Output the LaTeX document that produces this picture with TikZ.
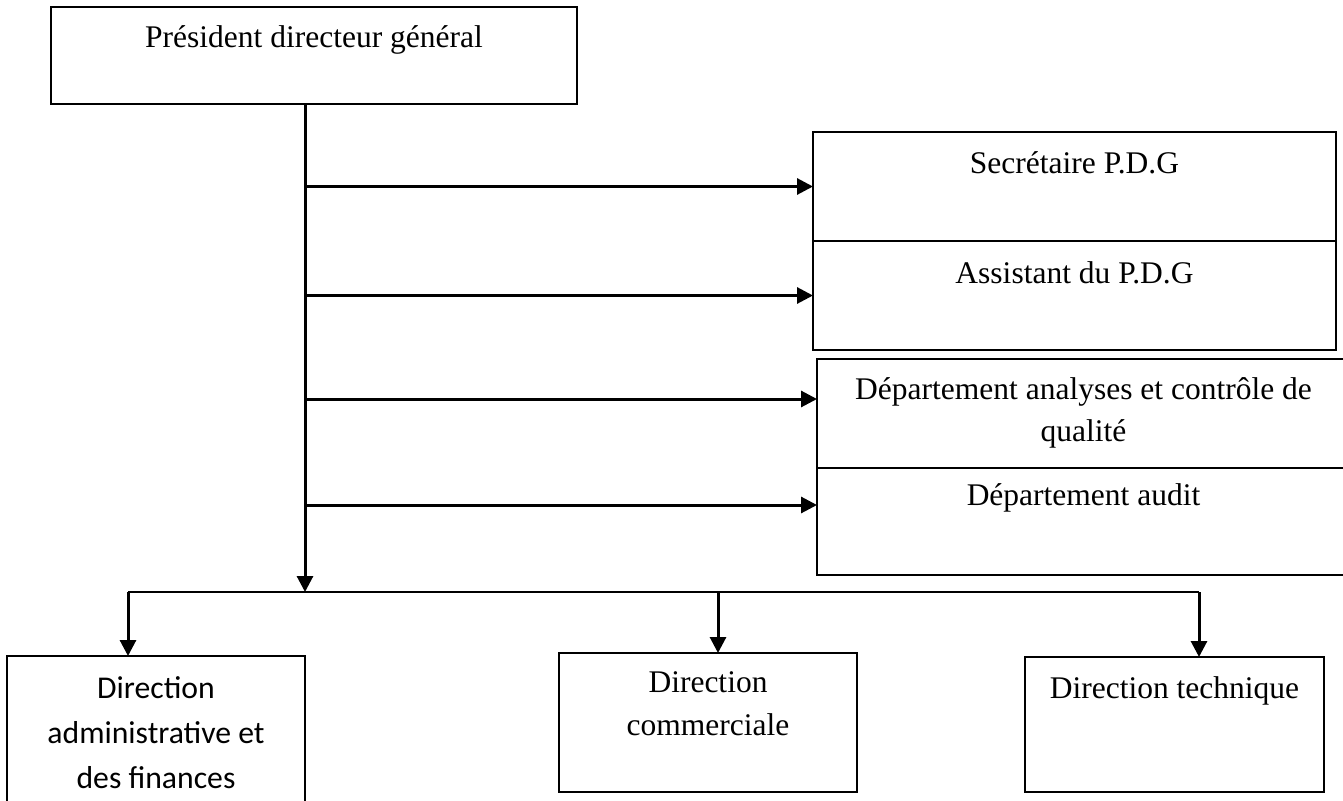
\documentclass[tikz,border=0pt]{standalone}
\usepackage{fontspec}
\setmainfont{Liberation Serif}
\newfontfamily\calfont{Carlito}
\usetikzlibrary{arrows.meta}
\begin{document}
\begin{tikzpicture}[x=1pt,y=-1pt,
  box/.style={draw,line width=2.2pt,rectangle,inner sep=0pt,outer sep=0pt},
  lbl/.style={inner sep=0pt,anchor=base,align=center,font=\fontsize{31.5}{42}\selectfont},
  clbl/.style={inner sep=0pt,anchor=base,align=center,font=\calfont\fontsize{31.7}{45}\selectfont},
  conn/.style={line width=3pt,-{Triangle[length=16pt,width=16pt]}},
  busline/.style={line width=2.4pt}]
\useasboundingbox (0,0) rectangle (1343,800);
% boxes
\node[box,minimum width=526pt,minimum height=97pt] (pdg) at (314,55.5) {};
\node[box,minimum width=523pt,minimum height=109pt] (sec) at (1074.5,186.5) {};
\node[box,minimum width=523pt,minimum height=109pt] (ass) at (1074.5,295.5) {};
\node[box,minimum width=533pt,minimum height=109pt] (ana) at (1083.5,413.5) {};
\node[box,minimum width=533pt,minimum height=107pt] (aud) at (1083.5,521.5) {};
\node[box,minimum width=298pt,minimum height=174pt] (daf) at (156,743) {};
\node[box,minimum width=298pt,minimum height=139pt] (dc) at (708,722.5) {};
\node[box,minimum width=299pt,minimum height=135pt] (dt) at (1174.5,724.5) {};
% labels (base anchor = baseline of the last line)
\node[lbl] (pdgT) at ([yshift=-41pt]pdg.north) {Président directeur général};
\node[lbl] (secT) at ([yshift=-41pt]sec.north) {Secrétaire P.D.G};
\node[lbl] (assT) at ([yshift=-42pt]ass.north) {Assistant du P.D.G};
\node[lbl] (anaT) at ([yshift=-82pt]ana.north) {Département analyses et contrôle de\\qualité};
\node[lbl] (audT) at ([yshift=-37pt]aud.north) {Département audit};
\node[clbl] (dafT) at ([yshift=-132pt]daf.north) {Direction\\administrative et\\des finances};
\node[lbl,font=\fontsize{31.5}{43}\selectfont] (dcT) at ([yshift=-82pt]dc.north) {Direction\\commerciale};
\node[lbl] (dtT) at ([yshift=-41pt]dt.north) {Direction technique};
% trunk
\coordinate (bj) at (305,592);
\coordinate (t1) at (305,186.5);
\coordinate (t2) at (305,295.5);
\coordinate (t3) at (305,399);
\coordinate (t4) at (305,505);
\draw[conn] (pdg.south -| bj) -- (bj);
\draw[conn] (t1) -- (t1 -| sec.west);
\draw[conn] (t2) -- (t2 -| ass.west);
\draw[conn] (t3) -- (t3 -| ana.west);
\draw[conn] (t4) -- (t4 -| aud.west);
% bus
\coordinate (b1) at (128,592);
\coordinate (b2) at (718,592);
\coordinate (b3) at (1199,592);
\draw[busline] (b1) -- (b3);
\draw[conn] (b1) -- (b1 |- daf.north);
\draw[conn] (b2) -- (b2 |- dc.north);
\draw[conn] (b3) -- (b3 |- dt.north);
\end{tikzpicture}
\end{document}
